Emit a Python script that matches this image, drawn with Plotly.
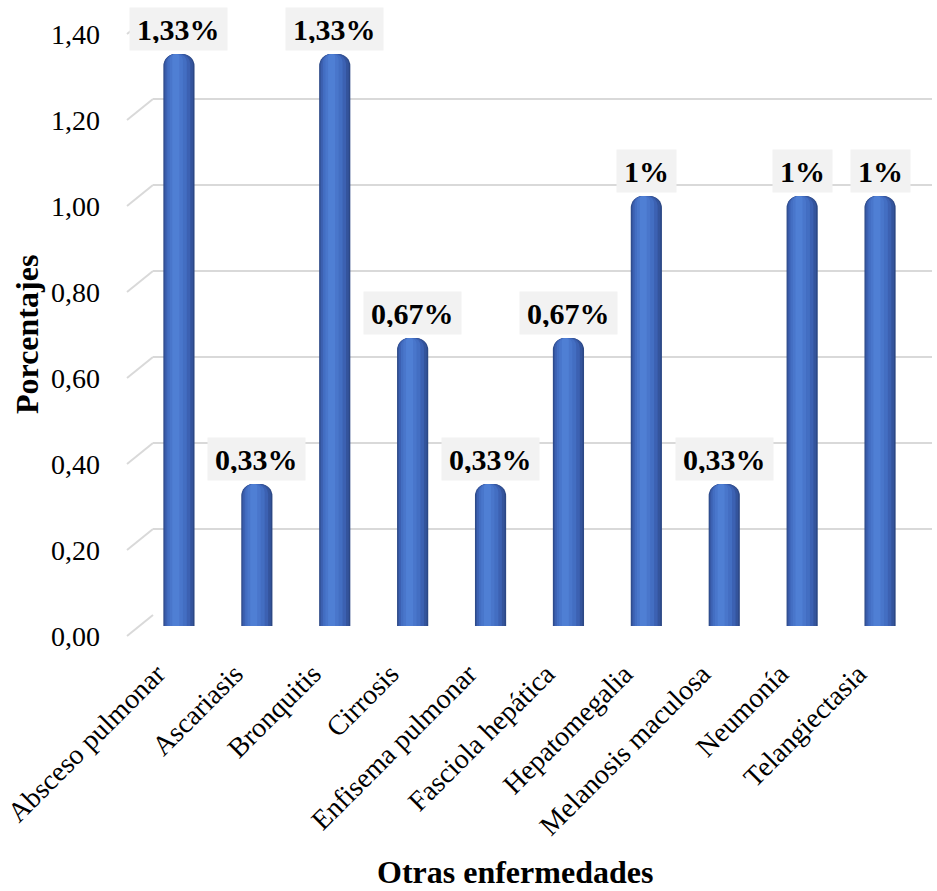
import plotly.graph_objects as go

# ---------------- data ----------------
categories = ["Absceso pulmonar", "Ascariasis", "Bronquitis", "Cirrosis",
              "Enfisema pulmonar", "Fasciola hepática", "Hepatomegalia",
              "Melanosis maculosa", "Neumonía", "Telangiectasia"]
values = [1.33, 0.33, 1.33, 0.67, 0.33, 0.67, 1.00, 0.33, 1.00, 1.00]
value_labels = ["1,33%", "0,33%", "1,33%", "0,67%", "0,33%", "0,67%",
                "1%", "0,33%", "1%", "1%"]
y_ticks = [0.0, 0.2, 0.4, 0.6, 0.8, 1.0, 1.2, 1.4]
y_title = "Porcentajes"
x_title = "Otras enfermedades"

# ---------------- layout geometry (pixels) ----------------
W, H = 937, 891
FONT = "Liberation Serif, Times New Roman, serif"


def px_x(p):
    return p / W


def px_y(p):
    return 1 - p / H


PX_PER_UNIT = 430.0
GRID_LEFT, GRID_RIGHT, GRID_ZERO, GRID_TOP = 153, 932, 615, 12
BAR_LEFT, BAR_RIGHT, BAR_ZERO = 140, 919, 626
DEPTH_DX, DEPTH_DY = 26, 21

grid_top_val = (GRID_ZERO - GRID_TOP) / PX_PER_UNIT
bar_top_val = (BAR_ZERO - GRID_TOP) / PX_PER_UNIT

fig = go.Figure()

# invisible trace to build the "back wall" grid subplot
fig.add_trace(go.Scatter(x=[0, 1], y=[0, 0], mode="lines",
                         line=dict(width=0), hoverinfo="skip",
                         showlegend=False, xaxis="x", yaxis="y"))

# cylinder-like shading with nested bars
layers = [
    (0.40, -0.200, "#2c4885", 12),
    (0.37, -0.190, "#34549c", 11),
    (0.32, -0.175, "#3c61b2", 10),
    (0.25, -0.150, "#436ec2", 8),
    (0.17, -0.120, "#4976cb", 6),
    (0.09, -0.085, "#4f7fd4", 4),
]
for w, off, col, rad in layers:
    fig.add_trace(go.Bar(
        x=categories, y=values, width=w, offset=off,
        marker=dict(color=col, line=dict(width=0), cornerradius=rad),
        hoverinfo="skip", showlegend=False, xaxis="x2", yaxis="y2"))

# data labels
annotations = []
for c, v, t in zip(categories, values, value_labels):
    annotations.append(dict(
        x=c, y=v, xref="x2", yref="y2", text="<b>%s</b>" % t,
        showarrow=False, yanchor="bottom", yshift=3,
        font=dict(family=FONT, size=30, color="black"),
        bgcolor="#f2f2f2", borderpad=7, height=28))

annotations.append(dict(
    x=px_x(27), y=px_y(335), xref="paper", yref="paper",
    xanchor="center", yanchor="middle",
    text="<b>%s</b>" % y_title, textangle=-90, showarrow=False,
    font=dict(family=FONT, size=32, color="black")))
annotations.append(dict(
    x=px_x(515), y=px_y(872), xref="paper", yref="paper",
    xanchor="center", yanchor="middle",
    text="<b>%s</b>" % x_title, showarrow=False,
    font=dict(family=FONT, size=32, color="black")))

# depth (diagonal) segments of the gridlines
shapes = []
for v in y_ticks:
    yb = GRID_ZERO - v * PX_PER_UNIT
    shapes.append(dict(type="line", xref="paper", yref="paper",
                       x0=px_x(GRID_LEFT - DEPTH_DX), y0=px_y(yb + DEPTH_DY),
                       x1=px_x(GRID_LEFT), y1=px_y(yb),
                       line=dict(color="#d9d9d9", width=2), layer="below"))

fig.update_layout(
    width=W, height=H,
    margin=dict(l=0, r=0, t=0, b=0, autoexpand=False),
    paper_bgcolor="white", plot_bgcolor="rgba(0,0,0,0)",
    barmode="overlay",
    separators=",.",
    showlegend=False,
    font=dict(family=FONT, color="black"),
    annotations=annotations,
    shapes=shapes,
    xaxis=dict(domain=[px_x(GRID_LEFT), px_x(GRID_RIGHT)], range=[0, 1],
               showgrid=False, zeroline=False, showticklabels=False,
               showline=False, fixedrange=True, automargin=False),
    yaxis=dict(domain=[px_y(GRID_ZERO), px_y(GRID_TOP)],
               range=[0, grid_top_val], anchor="x", automargin=False,
               tickvals=y_ticks, tickformat=".2f",
               showgrid=True, gridcolor="#d9d9d9", gridwidth=2,
               zeroline=False, showline=False, ticks="",
               ticklabelshift=DEPTH_DY, ticklabelstandoff=52,
               tickfont=dict(family=FONT, size=28, color="black")),
    xaxis2=dict(domain=[px_x(BAR_LEFT), px_x(BAR_RIGHT)], anchor="y2",
                range=[-0.5, len(categories) - 0.5], type="category",
                tickangle=-45, showgrid=False, zeroline=False,
                showline=False, ticks="", automargin=False,
                ticklabelstandoff=25, ticklabelshift=-22,
                tickfont=dict(family=FONT, size=28, color="black")),
    yaxis2=dict(domain=[px_y(BAR_ZERO), px_y(GRID_TOP)], anchor="x2",
                range=[0, bar_top_val], visible=False, automargin=False),
)

fig.write_html("out.html")
